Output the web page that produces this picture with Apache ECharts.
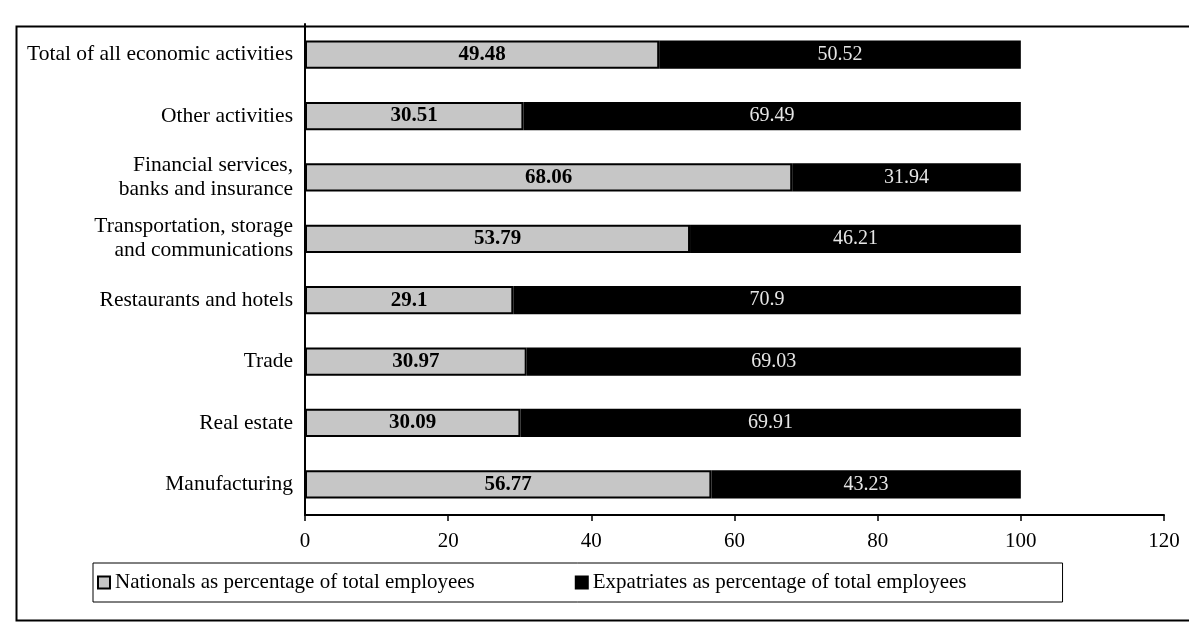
<!DOCTYPE html>
<html>
<head>
<meta charset="utf-8">
<script src="https://cdn.jsdelivr.net/npm/echarts@6/dist/echarts.min.js"></script>
<style>
html,body{margin:0;padding:0;background:#fff;}
#chart{width:1189px;height:631px;}
</style>
</head>
<body>
<div id="chart"></div>
<script>
const categories = [
  "Manufacturing",
  "Real estate",
  "Trade",
  "Restaurants and hotels",
  "Transportation, storage\nand communications",
  "Financial services,\nbanks and insurance",
  "Other activities",
  "Total of all economic activities"
];
const nationals = [56.77, 30.09, 30.97, 29.1, 53.79, 68.06, 30.51, 49.48];
const expatriates = [43.23, 69.91, 69.03, 70.9, 46.21, 31.94, 69.49, 50.52];
const seriesNames = [
  "Nationals as percentage of total employees",
  "Expatriates as percentage of total employees"
];
const xTicks = [0, 20, 40, 60, 80, 100, 120];

const FONT = "'Liberation Serif', 'Times New Roman', serif";
const chart = echarts.init(document.getElementById('chart'));
chart.setOption({
  animation: false,
  backgroundColor: '#fff',
  textStyle: { fontFamily: FONT },
  grid: { left: 305, right: 25, top: 24, bottom: 116, containLabel: false },
  graphic: [{
    type: 'rect', left: 14, top: 24, silent: true, z: -1,
    shape: { width: 1200, height: 594 },
    style: { fill: 'none', stroke: '#000', lineWidth: 2 }
  }],
  legend: {
    left: 93, top: 563,
    padding: [9, 96, 9, 4],
    borderColor: '#000', borderWidth: 1,
    itemWidth: 12, itemHeight: 12, itemGap: 100,
    icon: 'rect',
    textStyle: { fontFamily: FONT, fontSize: 21, color: '#000' },
    data: seriesNames
  },
  xAxis: {
    type: 'value', min: xTicks[0], max: xTicks[xTicks.length - 1], interval: 20,
    axisLine: { show: true, lineStyle: { color: '#000', width: 2 } },
    axisTick: { show: true, length: 6, lineStyle: { color: '#000', width: 1.5 } },
    splitLine: { show: false },
    axisLabel: { fontFamily: FONT, fontSize: 21, color: '#000', margin: 16 }
  },
  yAxis: {
    type: 'category', data: categories,
    axisLine: { show: true, lineStyle: { color: '#000', width: 2 } },
    axisTick: { show: false },
    axisLabel: { fontFamily: FONT, fontSize: 21.5, color: '#000', margin: 12, lineHeight: 24, align: 'right' }
  },
  series: [
    {
      name: seriesNames[0], type: 'bar', stack: 'total', data: nationals,
      barCategoryGap: '54%',
      itemStyle: { color: '#c6c6c6', borderColor: '#000', borderWidth: 2 },
      label: { show: true, position: 'inside', fontFamily: FONT, fontSize: 21, fontWeight: 'bold', color: '#000' }
    },
    {
      name: seriesNames[1], type: 'bar', stack: 'total', data: expatriates,
      barCategoryGap: '54%',
      itemStyle: { color: '#000', borderColor: '#000', borderWidth: 2 },
      label: { show: true, position: 'inside', fontFamily: FONT, fontSize: 20, color: '#e6e6e6' }
    }
  ]
});
</script>
</body>
</html>
